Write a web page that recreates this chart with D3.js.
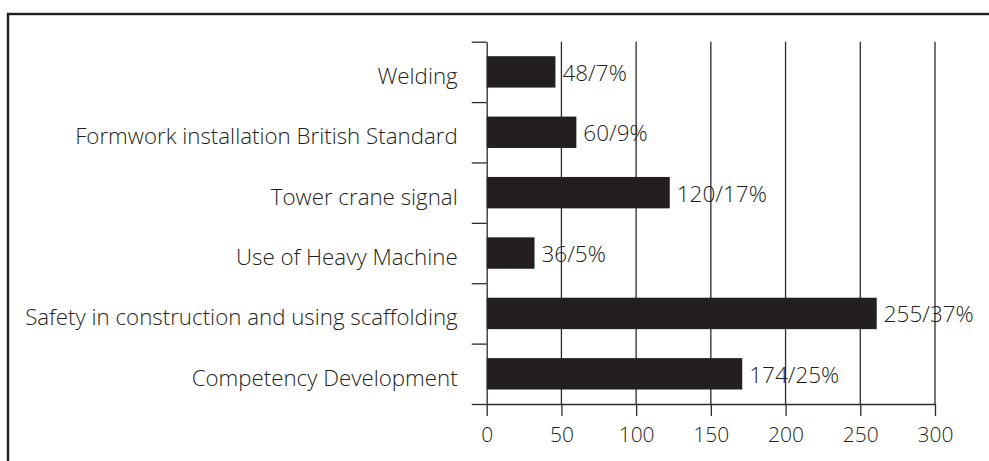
<!DOCTYPE html>
<html>
<head>
<meta charset="utf-8">
<script src="https://cdn.jsdelivr.net/npm/d3@7"></script>
<style>
  body { margin: 0; background: #fff; }
  svg { display: block; }
  text { font-family: "Open Sans", "Noto Sans", sans-serif; font-weight: 300; fill: #231f20; }
</style>
</head>
<body>
<script>
var svgWidth = 989;
var svgHeight = 461;

// categories top to bottom
var courses = [
    "Welding",
    "Formwork installation British Standard",
    "Tower crane signal",
    "Use of Heavy Machine",
    "Safety in construction and using scaffolding",
    "Competency Development"
];
// bar lengths as drawn in the picture
var barValues = [46, 60, 122.5, 32, 261, 171];
// printed labels
var counts = [48, 60, 120, 36, 255, 174];
var percents = [7, 9, 17, 5, 37, 25];
var xTicks = [0, 50, 100, 150, 200, 250, 300];

var data = courses.map((c, i) => ({
    course: c,
    value: barValues[i],
    label: counts[i] + "/" + percents[i] + "%"
}));

var chart = { left: 486.7, right: 935, top: 41.7, bottom: 404 };

var svg = d3.select("body")
    .append("svg")
    .attr("width", svgWidth)
    .attr("height", svgHeight);

// outer frame (runs off the right and bottom edges)
svg.append("rect")
    .attr("x", 8)
    .attr("y", 14)
    .attr("width", 1100)
    .attr("height", 600)
    .attr("fill", "none")
    .attr("stroke", "#231f20")
    .attr("stroke-width", 2.4);

var xScale = d3.scaleLinear()
    .domain([0, 300])
    .range([chart.left, chart.right]);

var yBand = d3.scaleBand()
    .domain(courses)
    .range([chart.top, chart.bottom])
    .paddingInner(0.48)
    .paddingOuter(0.24);

// boundary ticks for the category axis
var yEdge = d3.scaleLinear()
    .domain([0, courses.length])
    .range([chart.top, chart.bottom]);

// vertical grid lines
svg.append("g")
    .selectAll("line")
    .data(xTicks.filter(d => d > 0))
    .enter()
    .append("line")
    .attr("x1", d => xScale(d))
    .attr("x2", d => xScale(d))
    .attr("y1", chart.top)
    .attr("y2", chart.bottom)
    .attr("stroke", "#2b2b2b")
    .attr("stroke-width", 1.3);

// bars
svg.append("g")
    .selectAll(".bar")
    .data(data)
    .enter()
    .append("rect")
    .attr("class", "bar")
    .attr("x", xScale(0))
    .attr("y", d => yBand(d.course))
    .attr("width", d => xScale(d.value) - xScale(0))
    .attr("height", yBand.bandwidth())
    .attr("fill", "#231f20");

// bottom axis
var bottomAxis = d3.axisBottom(xScale)
    .tickValues(xTicks)
    .tickSize(12)
    .tickSizeOuter(0);

var xAxisG = svg.append("g")
    .attr("transform", `translate(0, ${chart.bottom})`)
    .call(bottomAxis);
xAxisG.selectAll("line, path").attr("stroke", "#2b2b2b").attr("stroke-width", 1.3);
xAxisG.selectAll("text")
    .attr("dy", null)
    .attr("y", 38)
    .style("font-size", "21px")
    .style("font-family", null);

// left axis: line plus ticks on band edges
var leftAxis = d3.axisLeft(yEdge)
    .tickValues(d3.range(courses.length + 1))
    .tickSize(15)
    .tickSizeOuter(0)
    .tickFormat("");

var yAxisG = svg.append("g")
    .attr("transform", `translate(${chart.left}, 0)`)
    .call(leftAxis);
yAxisG.selectAll("line, path").attr("stroke", "#2b2b2b").attr("stroke-width", 1.3);

// category labels
svg.append("g")
    .selectAll("text")
    .data(data)
    .enter()
    .append("text")
    .attr("x", chart.left - 29)
    .attr("y", d => yBand(d.course) + yBand.bandwidth() / 2 + 12)
    .attr("text-anchor", "end")
    .style("font-size", "22.3px")
    .text(d => d.course);

// value labels
svg.append("g")
    .selectAll("text")
    .data(data)
    .enter()
    .append("text")
    .attr("x", d => xScale(d.value) + 7)
    .attr("y", d => yBand(d.course) + yBand.bandwidth() / 2 + 9)
    .style("font-size", "22.5px")
    .text(d => d.label);
</script>
</body>
</html>
